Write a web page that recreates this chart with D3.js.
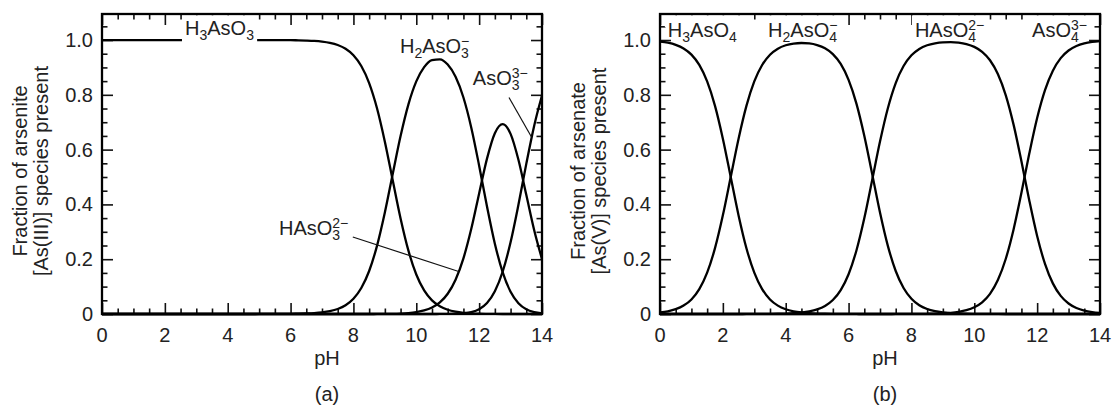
<!DOCTYPE html>
<html>
<head>
<meta charset="utf-8">
<script src="https://cdnjs.cloudflare.com/ajax/libs/d3/7.8.5/d3.min.js"></script>
<style>
  body { margin: 0; background: #fff; }
  text { font-family: "Liberation Sans", Arial, Helvetica, sans-serif; fill: #222; }
</style>
</head>
<body>
<div id="chart"></div>
<script>
// pH grid shared by both panels
var pH = [0,0.25,0.5,0.75,1,1.25,1.5,1.75,
  2,2.25,2.5,2.75,3,3.25,3.5,3.75,
  4,4.25,4.5,4.75,5,5.25,5.5,5.75,
  6,6.25,6.5,6.75,7,7.25,7.5,7.75,
  8,8.25,8.5,8.75,9,9.25,9.5,9.75,
  10,10.25,10.5,10.75,11,11.25,11.5,11.75,
  12,12.25,12.5,12.75,13,13.25,13.5,13.75,
  14];

// (a) arsenite species fractions
var h3aso3 = [1,1,1,1,1,1,1,1,
  1,1,1,1,1,1,1,1,
  1,1,1,1,0.9999,0.9999,0.9998,0.9997,
  0.9994,0.999,0.9981,0.9967,0.9941,0.9896,0.9817,0.9679,
  0.9444,0.9052,0.843,0.7512,0.6291,0.488,0.3488,0.2311,
  0.1441,0.086,0.0497,0.0281,0.0155,0.0083,0.0042,0.0021,
  0.0009,0.0004,0.0001,0,0,0,0,0,
  0];
var h2aso3 = [0,0,0,0,0,0,0,0,
  0,0,0,0,0,0,0,0,
  0,0,0,0,0.0001,0.0001,0.0002,0.0003,
  0.0006,0.001,0.0019,0.0033,0.0059,0.0104,0.0183,0.0321,
  0.0556,0.0948,0.157,0.2488,0.3705,0.5111,0.6495,0.7653,
  0.8489,0.9009,0.9264,0.9294,0.9103,0.8657,0.7901,0.6801,
  0.5414,0.3924,0.2568,0.1516,0.0809,0.0389,0.0169,0.0067,
  0.0025];
var haso3 = [0,0,0,0,0,0,0,0,
  0,0,0,0,0,0,0,0,
  0,0,0,0,0,0,0,0,
  0,0,0,0,0,0,0,0,
  0,0,0,0.0001,0.0003,0.0007,0.0017,0.0035,
  0.0069,0.013,0.0238,0.0425,0.074,0.1251,0.2031,0.3108,
  0.4401,0.5671,0.66,0.6931,0.6574,0.5627,0.4352,0.3067,
  0.2003];
var aso3 = [0,0,0,0,0,0,0,0,
  0,0,0,0,0,0,0,0,
  0,0,0,0,0,0,0,0,
  0,0,0,0,0,0,0,0,
  0,0,0,0,0,0,0,0,
  0,0,0,0.0001,0.0003,0.0009,0.0026,0.007,
  0.0175,0.0401,0.0831,0.1552,0.2617,0.3984,0.5479,0.6866,
  0.7973];

// (b) arsenate species fractions
var h3aso4 = [0.9944,0.9901,0.9825,0.9693,0.9468,0.9091,0.849,0.7597,
  0.64,0.5,0.3599,0.2402,0.151,0.0909,0.0532,0.0306,
  0.0174,0.0099,0.0056,0.0031,0.0017,0.001,0.0005,0.0003,
  0.0002,0.0001,0,0,0,0,0,0,
  0,0,0,0,0,0,0,0,
  0,0,0,0,0,0,0,0,
  0,0,0,0,0,0,0,0,
  0];
var h2aso4 = [0.0056,0.0099,0.0175,0.0307,0.0532,0.0909,0.151,0.2403,
  0.36,0.5,0.6401,0.7598,0.849,0.9088,0.9463,0.9684,
  0.9809,0.9872,0.9891,0.9875,0.9815,0.9697,0.9485,0.9126,
  0.8547,0.768,0.6506,0.5115,0.3706,0.2488,0.157,0.0948,
  0.0556,0.032,0.0183,0.0103,0.0058,0.0033,0.0018,0.001,
  0.0006,0.0003,0.0002,0.0001,0,0,0,0,
  0,0,0,0,0,0,0,0,
  0];
var haso4 = [0,0,0,0,0,0,0,0,
  0,0,0,0.0001,0.0001,0.0003,0.0005,0.0009,
  0.0017,0.003,0.0053,0.0094,0.0167,0.0293,0.0509,0.0871,
  0.1451,0.232,0.3494,0.4885,0.6294,0.7512,0.843,0.9051,
  0.9442,0.9675,0.981,0.9882,0.9917,0.9923,0.9903,0.985,
  0.9749,0.9569,0.9263,0.8761,0.7992,0.6912,0.5573,0.4145,
  0.2847,0.1829,0.1118,0.0661,0.0383,0.0219,0.0124,0.007,
  0.004];
var aso4 = [0,0,0,0,0,0,0,0,
  0,0,0,0,0,0,0,0,
  0,0,0,0,0,0,0,0,
  0,0,0,0,0,0,0.0001,0.0001,
  0.0002,0.0004,0.0008,0.0014,0.0025,0.0044,0.0079,0.0139,
  0.0245,0.0427,0.0736,0.1238,0.2008,0.3088,0.4427,0.5855,
  0.7153,0.8171,0.8882,0.9339,0.9617,0.9781,0.9876,0.993,
  0.996];

// ticks
var xMajor = [0, 2, 4, 6, 8, 10, 12, 14];
var xMinor = [0.5,1,1.5,2.5,3,3.5,4.5,5,5.5,6.5,7,7.5,8.5,9,9.5,10.5,11,11.5,12.5,13,13.5];
var yMajor = [0, 0.2, 0.4, 0.6, 0.8, 1.0];
var yMajorLabels = ['0', '0.2', '0.4', '0.6', '0.8', '1.0'];
var yMinor = [0.05,0.1,0.15,0.25,0.3,0.35,0.45,0.5,0.55,0.65,0.7,0.75,0.85,0.9,0.95,1.05];

// species labels: [pH, fraction, parts, white box bottom (px from baseline) or null]
// part = [text, subscript, superscript]
var labelsA = [
  [2.64, 1.018, [['H', '3'], ['AsO', '3']], 8],
  [9.48, 0.953, [['H', '2'], ['AsO', '3', '\u2212']], null],
  [11.8, 0.836, [['AsO', '3', '3\u2212']], null],
  [5.63, 0.288, [['HAsO', '3', '2\u2212']], null]
];
var labelsB = [
  [0.25, 1.011, [['H', '3'], ['AsO', '4']], -10],
  [3.44, 1.011, [['H', '2'], ['AsO', '4', '\u2212']], -10],
  [8.11, 1.011, [['HAsO', '4', '2\u2212']], -10],
  [11.84, 1.011, [['AsO', '4', '3\u2212']], -10]
];
// leader lines [pH1, f1, pH2, f2]
var leadersA = [
  [12.95, 0.79, 13.67, 0.645],
  [7.98, 0.281, 11.35, 0.155]
];
var leadersB = [];

var panels = [
  { series: [h3aso3, h2aso3, haso3, aso3], labels: labelsA, leaders: leadersA,
    title: ['Fraction of arsenite', '[As(III)] species present'], tag: '(a)' },
  { series: [h3aso4, h2aso4, haso4, aso4], labels: labelsB, leaders: leadersB,
    title: ['Fraction of arsenate', '[As(V)] species present'], tag: '(b)' }
];

var margin = {top: 14, left: 102},
    width = 440,
    height = 300,
    panelW = 558,
    fs = 20;

var svg = d3.select('#chart').append('svg')
  .attr('width', 1114)
  .attr('height', 410);

var x = d3.scaleLinear().domain([0, 14]).range([0, width]),
    y = d3.scaleLinear().domain([0, 1.095]).range([height, 0]);

var line = d3.line()
  .x(function(d, i) { return x(pH[i]); })
  .y(function(d) { return y(d); })
  .curve(d3.curveMonotoneX);

function speciesLabel(g, lab) {
  var t = g.append('g');
  var cx = x(lab[0]), by = y(lab[1]);
  lab[2].forEach(function(p) {
    var m = t.append('text').attr('x', cx).attr('y', by).attr('font-size', fs).text(p[0]);
    cx += m.node().getComputedTextLength();
    var w = 0;
    if (p[1]) {
      var s = t.append('text').attr('x', cx).attr('y', by + 5).attr('font-size', 14).text(p[1]);
      w = s.node().getComputedTextLength();
    }
    if (p[2]) {
      var u = t.append('text').attr('x', cx).attr('y', by - 7).attr('font-size', 14).text(p[2]);
      w = Math.max(w, u.node().getComputedTextLength());
    }
    cx += w;
  });
  if (lab[3] !== null) {
    var bb = t.node().getBBox();
    t.insert('rect', ':first-child')
      .attr('x', bb.x - 3)
      .attr('y', 1.3)
      .attr('width', bb.width + 6)
      .attr('height', by + lab[3] - 1.3)
      .attr('fill', '#fff');
  }
}

panels.forEach(function(p, k) {
  var g = svg.append('g')
    .attr('transform', 'translate(' + (k * panelW + margin.left) + ',' + margin.top + ')');

  // inward ticks on all four sides
  var axes = [
    [d3.axisBottom(x), 'translate(0,' + height + ')', xMajor, xMinor],
    [d3.axisTop(x), null, xMajor, xMinor],
    [d3.axisLeft(y), null, yMajor, yMinor],
    [d3.axisRight(y), 'translate(' + width + ',0)', yMajor, yMinor]
  ];
  axes.forEach(function(a) {
    var mk = function(vals, size) {
      var ax = g.append('g').attr('class', 'ticks');
      if (a[1]) ax.attr('transform', a[1]);
      a[0].tickValues(vals).tickSize(-size).tickFormat('');
      ax.call(a[0]);
      ax.select('.domain').remove();
      ax.selectAll('line').attr('stroke', '#111').attr('stroke-width', 1.6);
    };
    mk(a[3], 5.5);
    mk(a[2], 11);
  });

  // tick labels
  g.append('g').selectAll('text')
    .data(xMajor)
    .enter().append('text')
    .attr('x', function(d) { return x(d); })
    .attr('y', height + 28)
    .attr('text-anchor', 'middle')
    .attr('font-size', fs)
    .text(function(d) { return d; });

  g.append('g').selectAll('text')
    .data(yMajor)
    .enter().append('text')
    .attr('x', -9)
    .attr('y', function(d) { return y(d) + 7; })
    .attr('text-anchor', 'end')
    .attr('font-size', fs)
    .text(function(d, i) { return yMajorLabels[i]; });

  // curves
  g.selectAll('.curve')
    .data(p.series)
    .enter().append('path')
    .attr('class', 'curve')
    .attr('d', line)
    .attr('fill', 'none')
    .attr('stroke', '#000')
    .attr('stroke-width', 2.3);

  // leader lines
  g.selectAll('.leader')
    .data(p.leaders)
    .enter().append('line')
    .attr('class', 'leader')
    .attr('x1', function(d) { return x(d[0]); })
    .attr('y1', function(d) { return y(d[1]); })
    .attr('x2', function(d) { return x(d[2]); })
    .attr('y2', function(d) { return y(d[3]); })
    .attr('stroke', '#111')
    .attr('stroke-width', 1.2);

  p.labels.forEach(function(lab) { speciesLabel(g, lab); });

  // frame
  g.append('rect')
    .attr('width', width)
    .attr('height', height)
    .attr('fill', 'none')
    .attr('stroke', '#000')
    .attr('stroke-width', 2.3);

  // axis titles
  g.append('text')
    .attr('x', width / 2 + 5)
    .attr('y', height + 51)
    .attr('text-anchor', 'middle')
    .attr('font-size', fs)
    .text('pH');

  g.append('text')
    .attr('x', width / 2 + 5)
    .attr('y', height + 87)
    .attr('text-anchor', 'middle')
    .attr('font-size', fs)
    .text(p.tag);

  p.title.forEach(function(t, i) {
    g.append('text')
      .attr('transform', 'translate(' + (-75 + i * 21) + ',' + (height / 2 + 7) + ') rotate(-90)')
      .attr('text-anchor', 'middle')
      .attr('font-size', fs)
      .text(t);
  });
});
</script>
</body>
</html>
